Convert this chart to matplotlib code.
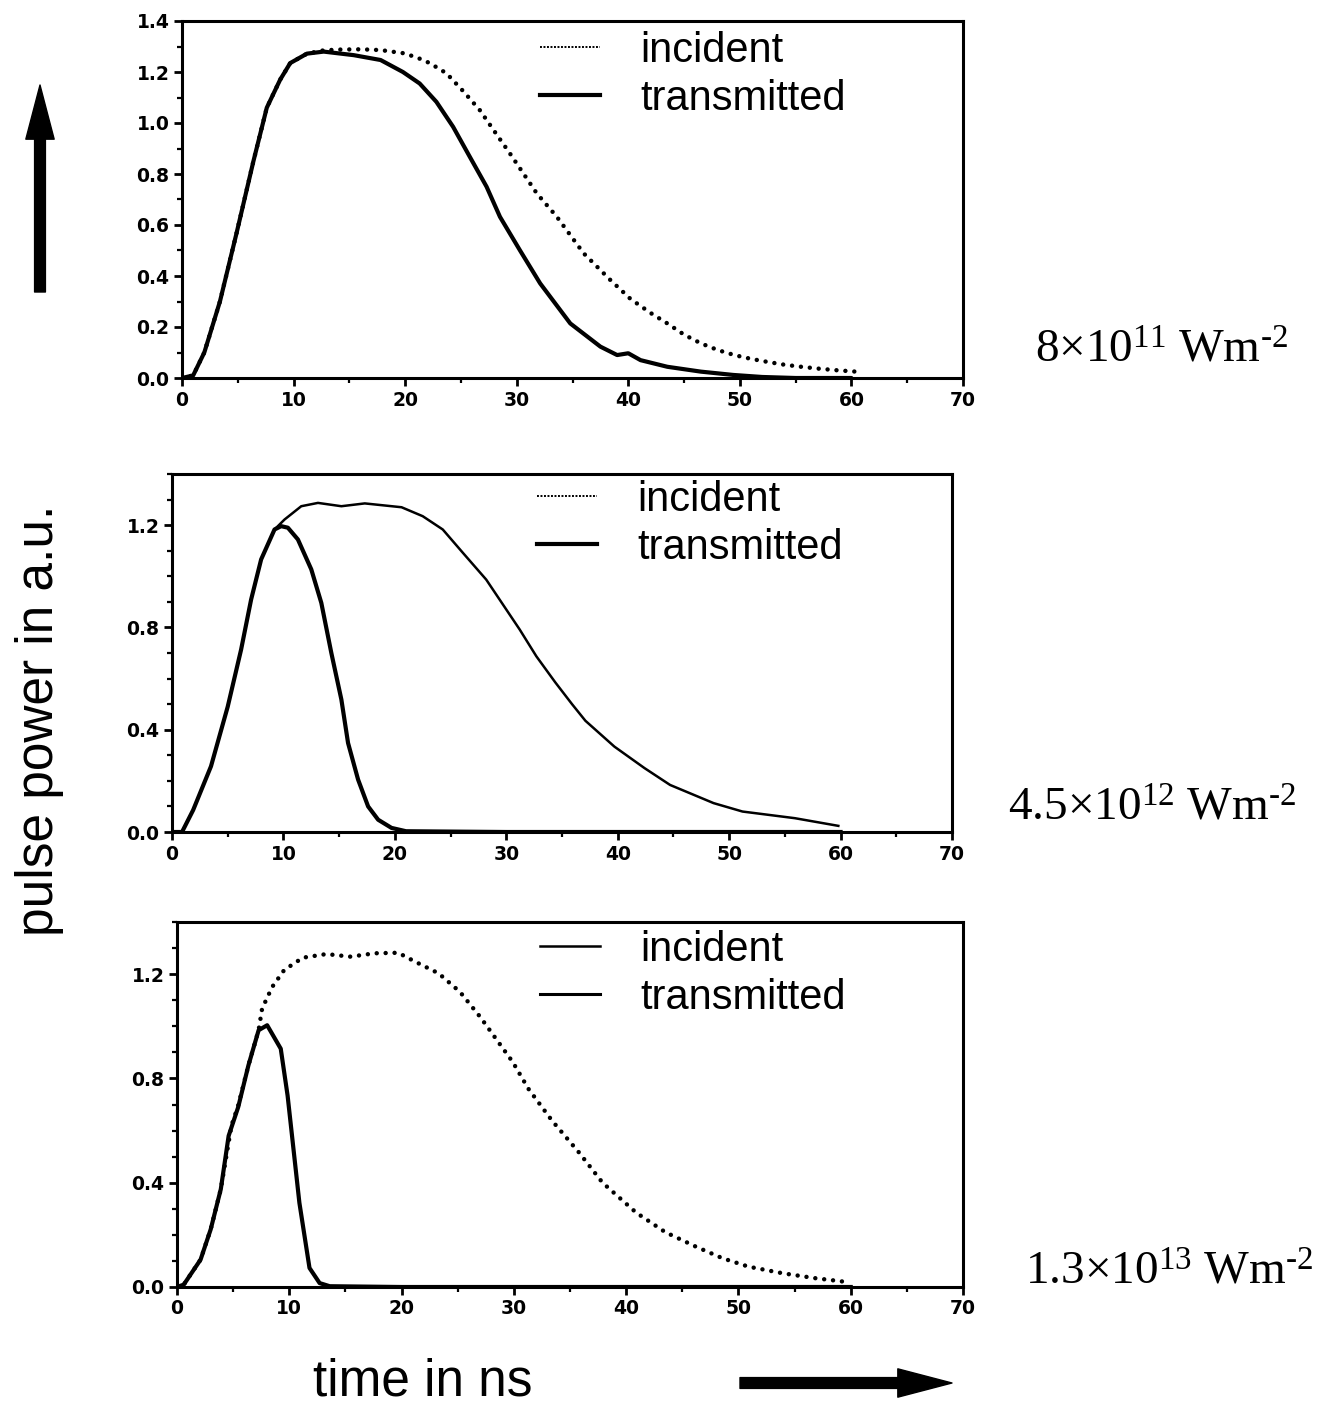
import matplotlib
matplotlib.use("Agg")
import matplotlib.pyplot as plt
from matplotlib.lines import Line2D
from matplotlib.patches import FancyArrowPatch, ArrowStyle
from matplotlib.ticker import MultipleLocator, FormatStrFormatter

# ---------------- data ----------------
top_inc_t = [0, 1, 2, 3.4, 4.9, 6.4, 7.6, 8.8, 9.7, 11.2, 12.7, 14.2, 16, 17.8, 19.8, 21, 22.2, 23.7,
             25.2, 26.7, 28.2, 29.4, 31.8, 33.6, 36.0, 38.4, 40.2, 42, 43.5, 45, 46.5, 48, 49.5, 51,
             52.5, 54, 55.5, 57, 58.5, 60.4]
top_inc_v = [0, 0.01, 0.1, 0.3, 0.57, 0.85, 1.06, 1.17, 1.235, 1.272, 1.285, 1.288, 1.289, 1.286,
             1.274, 1.258, 1.235, 1.195, 1.125, 1.05, 0.955, 0.88, 0.724, 0.632, 0.489, 0.384, 0.31,
             0.255, 0.214, 0.17, 0.136, 0.11, 0.09, 0.075, 0.063, 0.052, 0.044, 0.037, 0.031, 0.025]
top_tr_t = [0, 1, 2, 3.4, 4.9, 6.4, 7.6, 8.8, 9.7, 11.2, 12.7, 15.4, 17.8, 19.8, 21.3, 22.8, 24.3,
            25.8, 27.3, 28.5, 30.3, 32.1, 34.8, 37.5, 39.0, 40.0, 41.1, 43.5, 46.5, 49.4, 52, 55, 60]
top_tr_v = [0, 0.01, 0.1, 0.3, 0.57, 0.85, 1.06, 1.17, 1.235, 1.272, 1.28, 1.266, 1.247, 1.20,
            1.155, 1.083, 0.985, 0.867, 0.75, 0.632, 0.50, 0.371, 0.214, 0.123, 0.09, 0.097, 0.07,
            0.044, 0.025, 0.012, 0.004, 0.0, 0.0]

mid_inc_t = [0, 0.9, 1.9, 3.5, 5.0, 6.2, 7.1, 8.0, 9.2, 10.1, 11.6, 13.1, 15.2, 17.3, 20.6, 22.5,
             24.3, 26.1, 28.2, 30.0, 31.2, 32.7, 34.4, 35.9, 37.1, 39.7, 42.4, 44.7, 48.6, 51.2,
             55.9, 59.8]
mid_inc_v = [0, 0.0, 0.086, 0.257, 0.49, 0.713, 0.909, 1.066, 1.183, 1.222, 1.274, 1.287, 1.274,
             1.285, 1.27, 1.235, 1.183, 1.092, 0.987, 0.87, 0.792, 0.687, 0.585, 0.5, 0.435,
             0.334, 0.25, 0.184, 0.113, 0.08, 0.054, 0.024]
mid_tr_t = [0, 0.9, 1.9, 3.5, 5.0, 6.2, 7.1, 8.0, 9.2, 9.8, 10.4, 11.3, 12.5, 13.4, 14.3, 15.2,
            15.8, 16.7, 17.6, 18.5, 19.7, 21, 30, 45, 60]
mid_tr_v = [0, 0, 0.086, 0.257, 0.49, 0.713, 0.909, 1.066, 1.183, 1.196, 1.19, 1.144, 1.027,
            0.896, 0.70, 0.518, 0.348, 0.205, 0.10, 0.048, 0.016, 0.003, 0.0, 0.0, 0.0]

bot_inc_t = [0, 0.6, 2.1, 3.0, 3.9, 4.85, 5.45, 6.36, 7.27, 7.58, 8.48, 9.55, 11.2, 13.3, 15.45,
             17.6, 19.7, 21.2, 23.3, 25.2, 27.0, 29.9, 31.3, 33.4, 35.8, 37.9, 40.9, 43.5, 46.2,
             48.6, 50.9, 53.9, 56.8, 59.5]
bot_inc_v = [0, 0.009, 0.105, 0.221, 0.375, 0.619, 0.696, 0.85, 0.985, 1.068, 1.151, 1.216,
             1.263, 1.277, 1.267, 1.28, 1.282, 1.248, 1.203, 1.132, 1.036, 0.863, 0.76, 0.638,
             0.516, 0.40, 0.285, 0.21, 0.155, 0.11, 0.078, 0.053, 0.034, 0.02]
bot_tr_t = [0, 0.6, 2.1, 3.0, 3.9, 4.6, 5.45, 6.36, 7.27, 8.03, 9.24, 9.85, 10.9, 11.8, 12.7,
            13.6, 20, 40, 60]
bot_tr_v = [0, 0.009, 0.105, 0.221, 0.375, 0.58, 0.69, 0.85, 0.985, 1.004, 0.914, 0.734,
            0.323, 0.073, 0.015, 0.003, 0, 0, 0]

intensity_labels = [r"$\mathrm{8{\times}10^{11}\ Wm^{\text{-2}}}$",
                    r"$\mathrm{4.5{\times}10^{12}\ Wm^{\text{-2}}}$",
                    r"$\mathrm{1.3{\times}10^{13}\ Wm^{\text{-2}}}$"]
legend_labels = ["incident", "transmitted"]
xlabel = "time in ns"
ylabel = "pulse power in a.u."

# ---------------- figure ----------------
plt.rcParams['mathtext.fontset'] = 'custom'
plt.rcParams['mathtext.rm'] = 'Liberation Serif'
plt.rcParams['mathtext.it'] = 'Liberation Serif:italic'

W, H = 1329, 1406
fig = plt.figure(figsize=(W / 100, H / 100), dpi=100)
fig.patch.set_facecolor('white')

def px_axes(l, t, r, b):
    return fig.add_axes([l / W, 1 - b / H, (r - l) / W, (b - t) / H])

ax_top = px_axes(182, 21, 963, 378)
ax_mid = px_axes(172, 474, 952, 832)
ax_bot = px_axes(177, 922, 963, 1287)

dot_kw = dict(color='black', lw=3.2, linestyle=(0, (0.01, 2.0)), dash_capstyle='round')

# top panel
ax_top.plot(top_inc_t, top_inc_v, **dot_kw)
ax_top.plot(top_tr_t, top_tr_v, color='black', lw=3.0, solid_capstyle='round')
# middle panel
ax_mid.plot(mid_inc_t, mid_inc_v, color='black', lw=1.8)
ax_mid.plot(mid_tr_t, mid_tr_v, color='black', lw=3.0)
# bottom panel
ax_bot.plot(bot_inc_t, bot_inc_v, **dot_kw)
ax_bot.plot(bot_tr_t, bot_tr_v, color='black', lw=3.0)

tick_font = dict(family='DejaVu Sans', weight='bold', size=13.5)
for ax, ymaj in [(ax_top, 0.2), (ax_mid, 0.4), (ax_bot, 0.4)]:
    ax.set_xlim(0, 70)
    ax.set_ylim(0, 1.4)
    ax.xaxis.set_major_locator(MultipleLocator(10))
    ax.xaxis.set_minor_locator(MultipleLocator(5))
    ax.yaxis.set_major_locator(MultipleLocator(ymaj))
    ax.yaxis.set_minor_locator(MultipleLocator(0.1))
    ax.yaxis.set_major_formatter(FormatStrFormatter('%.1f'))
    for s in ax.spines.values():
        s.set_linewidth(2.2)
        s.set_zorder(5)
    ax.tick_params(which='major', direction='out', length=6, width=2, pad=3)
    ax.tick_params(which='minor', direction='out', length=3.5, width=1.6)
    for lab in ax.get_xticklabels() + ax.get_yticklabels():
        lab.set_fontproperties(tick_font)

leg_font = dict(family='Liberation Sans', size=30)
dotted_small = Line2D([], [], color='black', lw=1.4, linestyle=(0, (1, 0.8)))
thick = Line2D([], [], color='black', lw=3.0)
thin = Line2D([], [], color='black', lw=1.8)
thin2 = Line2D([], [], color='black', lw=2.2)

legend_specs = [
    (ax_top, [dotted_small, thick], (540 - 182) / 781, 0.973),
    (ax_mid, [dotted_small, thick], (537 - 172) / 780, 0.984),
    (ax_bot, [thin, thin2], (540 - 177) / 786, 0.979),
]
for ax, handles, xa, ya in legend_specs:
    ax.legend(handles, legend_labels, loc='upper left', bbox_to_anchor=(xa, ya),
              frameon=False, prop=leg_font, handlelength=1.45, handletextpad=0.95,
              borderpad=0, borderaxespad=0, labelspacing=0.2)

# intensity labels
for lab, (xp, yp) in zip(intensity_labels, [(1035, 350), (1008, 808), (1025, 1272)]):
    fig.text(xp / W, 1 - yp / H, lab, fontsize=34, ha='left', va='center')

# axis labels
fig.text(40 / W, 1 - 720 / H, ylabel, rotation=90, ha='center', va='center',
         family='Liberation Sans', fontsize=37)
fig.text(423 / W, 1 - 1382 / H, xlabel, ha='center', va='center',
         family='Liberation Sans', fontsize=37)

# arrows (in figure pixel coordinates)
def px(xp, yp):
    return (xp / W, 1 - yp / H)

style = ArrowStyle.Simple(head_length=0.65, head_width=0.34, tail_width=0.13)
fig.add_artist(FancyArrowPatch(px(40, 292), px(40, 85), transform=fig.transFigure,
                               arrowstyle=style, mutation_scale=60, color='black',
                               shrinkA=0, shrinkB=0))
fig.add_artist(FancyArrowPatch(px(740, 1383), px(952, 1383), transform=fig.transFigure,
                               arrowstyle=style, mutation_scale=60, color='black',
                               shrinkA=0, shrinkB=0))

fig.savefig("out.png", dpi=100, facecolor='white')
